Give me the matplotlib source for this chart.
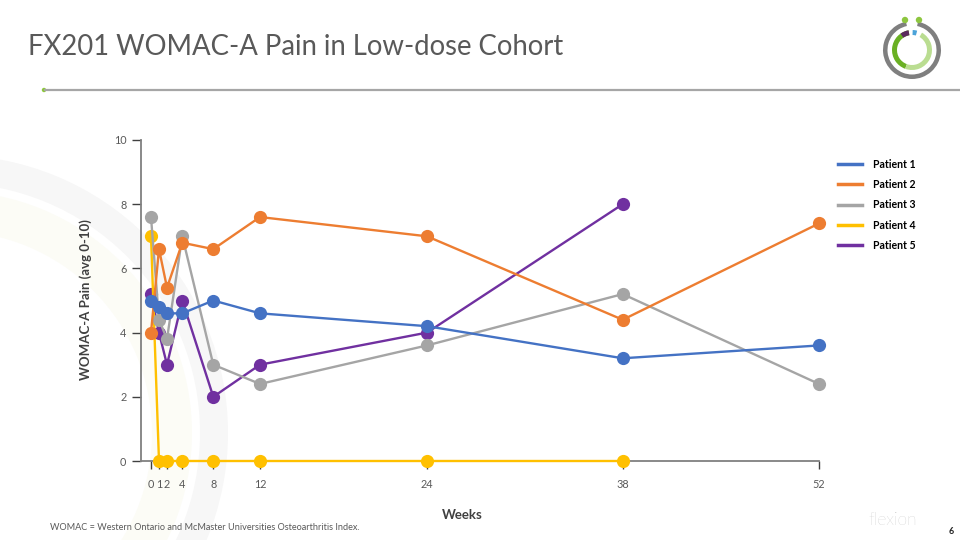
import numpy as np
import matplotlib
matplotlib.use("Agg")
import matplotlib.pyplot as plt
from matplotlib.patches import Wedge, Circle
from matplotlib.scale import FuncScale
from matplotlib.lines import Line2D

plt.rcParams['font.family'] = ['Lato', 'DejaVu Sans']

# ---------------- data ----------------
weeks_ticks = [0, 1, 2, 4, 8, 12, 24, 38, 52]
tick_labels = ["0", "1", "2", "4", "8", "12", "24", "38", "52"]

p1_weeks = [0, 1, 2, 4, 8, 12, 24, 38, 52]
p1_vals = [5.0, 4.8, 4.6, 4.6, 5.0, 4.6, 4.2, 3.2, 3.6]
p2_weeks = [0, 1, 2, 4, 8, 12, 24, 38, 52]
p2_vals = [4.0, 6.6, 5.4, 6.8, 6.6, 7.6, 7.0, 4.4, 7.4]
p3_weeks = [0, 1, 2, 4, 8, 12, 24, 38, 52]
p3_vals = [7.6, 4.4, 3.8, 7.0, 3.0, 2.4, 3.6, 5.2, 2.4]
p4_weeks = [0, 1, 2, 4, 8, 12, 24, 38]
p4_vals = [7.0, 0, 0, 0, 0, 0, 0, 0]
p5_weeks = [0, 1, 2, 4, 8, 12, 24, 38]
p5_vals = [5.2, 4.0, 3.0, 5.0, 2.0, 3.0, 4.0, 8.0]

series_names = ["Patient 1", "Patient 2", "Patient 3", "Patient 4", "Patient 5"]
colors = ["#4472C4", "#ED7D31", "#A5A5A5", "#FFC000", "#7030A0"]

# ---------------- piecewise x scale (non-uniform spacing of visit weeks) ----------------
knot_w = np.array(weeks_ticks, float)
knot_p = np.array([151, 159, 167, 182.3, 213.3, 260, 427, 622.7, 819], float)
s_left = (knot_p[1] - knot_p[0]) / (knot_w[1] - knot_w[0])
s_right = (knot_p[-1] - knot_p[-2]) / (knot_w[-1] - knot_w[-2])


def fwd(x):
    x = np.asarray(x, float)
    y = np.interp(x, knot_w, knot_p)
    y = np.where(x < knot_w[0], knot_p[0] + (x - knot_w[0]) * s_left, y)
    y = np.where(x > knot_w[-1], knot_p[-1] + (x - knot_w[-1]) * s_right, y)
    return y


def inv(p):
    p = np.asarray(p, float)
    x = np.interp(p, knot_p, knot_w)
    x = np.where(p < knot_p[0], knot_w[0] + (p - knot_p[0]) / s_left, x)
    x = np.where(p > knot_p[-1], knot_w[-1] + (p - knot_p[-1]) / s_right, x)
    return x


W, H = 960, 540
fig = plt.figure(figsize=(9.6, 5.4), dpi=100)
fig.patch.set_facecolor("white")

# ---------------- decoration layer (pixel coords, y measured from top) ----------------
deco = fig.add_axes([0, 0, 1, 1], zorder=0)
deco.set_xlim(0, W)
deco.set_ylim(0, H)
deco.axis("off")


def Y(y):
    return H - y


# faint background rings
deco.add_patch(Wedge((-50, Y(433)), 278, 0, 360, width=28, facecolor="#F7F7F7", edgecolor="none"))
deco.add_patch(Wedge((-50, Y(433)), 242, 0, 360, width=40, facecolor="#FCFCF6", edgecolor="none"))

# title
deco.text(28, Y(47), "FX201 WOMAC-A Pain in Low-dose Cohort", fontsize=19.8, color="#595959",
          ha="left", va="center", fontweight="normal")
# separator line + green dot
deco.plot([44, 960], [Y(90), Y(90)], color="#A6A6A6", lw=1.6, solid_capstyle="butt")
deco.add_patch(Circle((44, Y(90)), 2.2, facecolor="#8DC63F", edgecolor="none"))

# logo
cx, cy = 912, Y(50)
deco.add_patch(Wedge((cx, cy), 29, 102, 438, width=4.5, facecolor="#7F7F7F", edgecolor="none"))
deco.add_patch(Wedge((cx, cy), 20, 100, 250, width=5, facecolor="#6AB023", edgecolor="none"))
deco.add_patch(Wedge((cx, cy), 20, 250, 420, width=5, facecolor="#BADD91", edgecolor="none"))
deco.add_patch(Wedge((cx, cy), 20, 100, 125, width=5, facecolor="#5B2A5E", edgecolor="none"))
deco.add_patch(Wedge((cx, cy), 20, 75, 88, width=5, facecolor="#4BA3D9", edgecolor="none"))
deco.add_patch(Circle((cx - 7, Y(20)), 3.2, facecolor="#8DC63F", edgecolor="none"))
deco.add_patch(Circle((cx + 7, Y(20)), 3.2, facecolor="#8DC63F", edgecolor="none"))

# footer
deco.text(50, Y(528), "WOMAC = Western Ontario and McMaster Universities Osteoarthritis Index.",
          fontsize=6.55, color="#595959", ha="left", va="center")
deco.text(893, Y(520), "flexion", fontsize=12.5, color="#B0B0B0", ha="center", va="center",
          fontweight="light")
deco.text(951, Y(532), "6", fontsize=6.5, color="#262626", ha="center", va="center", fontweight="bold")

# ---------------- chart ----------------
ax = fig.add_axes([141 / W, 1 - 461 / H, (819 - 141) / W, (461 - 140) / H], zorder=2)
ax.patch.set_alpha(0)
ax.set_xscale(FuncScale(ax, (fwd, inv)))
ax.set_xlim(inv(141), 52)
ax.set_ylim(0, 10)

all_weeks = [p1_weeks, p2_weeks, p3_weeks, p4_weeks, p5_weeks]
all_vals = [p1_vals, p2_vals, p3_vals, p4_vals, p5_vals]
for i, (wk, vals) in enumerate(zip(all_weeks, all_vals)):
    ax.plot(wk, vals, color=colors[i], lw=1.7, marker="o", markersize=9.5,
            markeredgewidth=0, zorder=10 - i, clip_on=False, label=series_names[i])

ax.set_xticks(weeks_ticks)
ax.set_xticklabels(tick_labels)
ax.set_yticks([0, 2, 4, 6, 8, 10])
ax.minorticks_off()

for side in ["top", "right"]:
    ax.spines[side].set_visible(False)
for side in ["left", "bottom"]:
    ax.spines[side].set_color("#808080")
    ax.spines[side].set_linewidth(1.3)

ax.tick_params(axis="y", direction="out", length=6.5, width=1, color="#404040",
               labelsize=7.8, labelcolor="#595959", pad=4)
ax.tick_params(axis="x", direction="out", length=6, width=1, color="#404040",
               labelsize=7.8, labelcolor="#595959", pad=7)

fig.text(86 / W, 1 - 300 / H, "WOMAC-A Pain (avg 0-10)", rotation=90, fontsize=9.5,
         fontweight="bold", color="#404040", ha="center", va="center")
fig.text(462 / W, 1 - 515 / H, "Weeks", fontsize=9.5, fontweight="bold", color="#404040",
         ha="center", va="center")

leg_handles = [Line2D([0], [0], color=c, lw=2.5) for c in colors]
fig.legend(leg_handles, series_names, loc="upper left",
           bbox_to_anchor=(838 / W, 1 - 159 / H), frameon=False,
           prop={"weight": "bold", "size": 7.6}, handlelength=2.3,
           handletextpad=1.0, labelspacing=0.87, borderaxespad=0, borderpad=0)

fig.savefig("out.png", dpi=100)
